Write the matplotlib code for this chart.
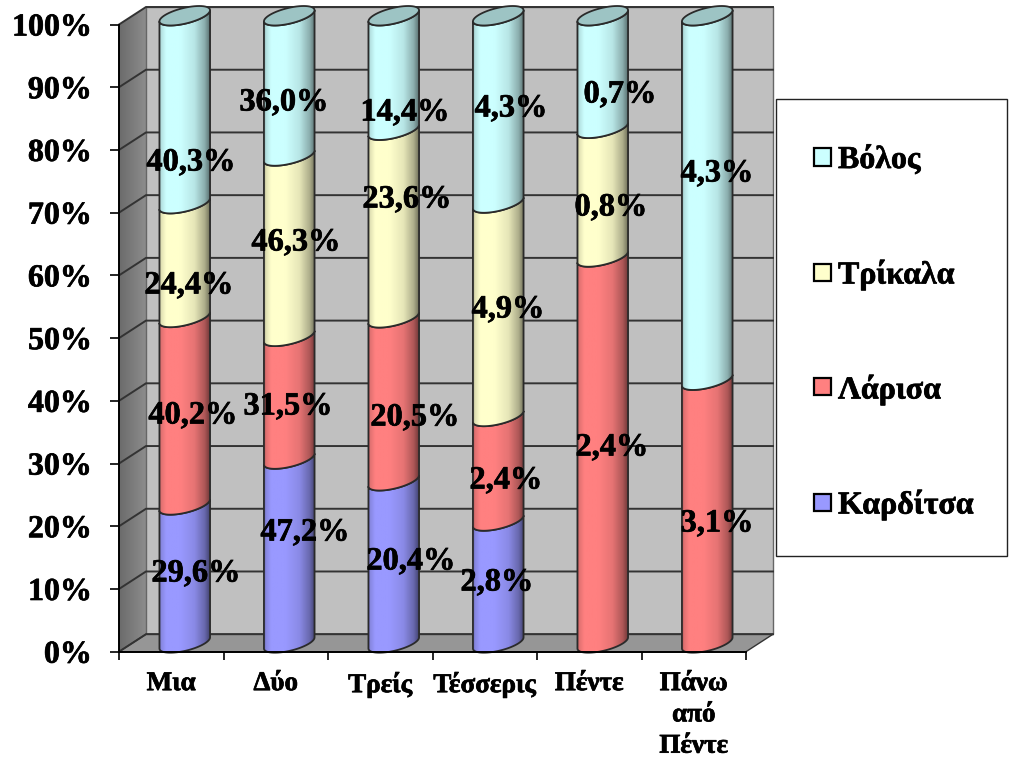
import matplotlib
matplotlib.use('Agg')
import matplotlib.pyplot as plt
import matplotlib.patheffects as pe
import numpy as np
from matplotlib.patches import Polygon, Rectangle

plt.rcParams['font.family'] = ['Liberation Serif', 'DejaVu Serif']
plt.rcParams['font.weight'] = 'bold'

# Δεδομένα
categories = ['Μια', 'Δύο', 'Τρείς', 'Τέσσερις', 'Πέντε', 'Πάνω\nαπό\nΠέντε']
series_names = ['Καρδίτσα', 'Λάρισα', 'Τρίκαλα', 'Βόλος']
karditsa = [29.6, 47.2, 20.4, 2.8, 0, 0]
larisa = [40.2, 31.5, 20.5, 2.4, 2.4, 3.1]
trikala = [24.4, 46.3, 23.6, 4.9, 0.8, 0]
volos = [40.3, 36.0, 14.4, 4.3, 0.7, 4.3]
y_ticks = [0, 10, 20, 30, 40, 50, 60, 70, 80, 90, 100]

colors = ['#9999FF', '#FF8080', '#FFFFCC', '#CCFFFF']

# Θέσεις των ετικετών τιμών (κέντρο σε pixel), ανά στήλη από κάτω προς τα πάνω
label_px = [
    [(195, 571), (192, 413), (188, 283), (190, 160)],
    [(304, 530), (287, 404), (295, 240), (283, 100)],
    [(410, 559), (414, 415), (406, 197), (404, 110)],
    [(496, 580), (505, 478), (507, 307), (510, 106)],
    [None, (611, 445), (610, 205), (619, 92)],
    [None, (716, 521), None, (716, 171)],
]

W, H = 1014, 758
X0, X1 = 119, 746
Y0, Y1 = 651.7, 24.5
px_x = 6 / (X1 - X0)
px_y = 100 / (Y0 - Y1)
TEXT_DX = 1
TEXT_DY = 3

# Βάθος του τρισδιάστατου πλαισίου
depth_x = 27 * px_x
depth_y = 17.5 * px_y

# Κύλινδρος
bar_a = 25.3
bar_b = 8.0
bar_k = 0.22
EDGE = '#2a2a2a'
HEAVY = [pe.withStroke(linewidth=0.5, foreground='black')]


def shade(color, f):
    rgb = np.array(matplotlib.colors.to_rgb(color))
    return tuple(rgb * f)


def arc(cx, y, t0, t1):
    t = np.linspace(t0, t1, 60)
    xs = cx + bar_a * np.cos(t) * px_x
    ys = y + (bar_b * np.sin(t) + bar_k * bar_a * np.cos(t)) * px_y
    return np.column_stack([xs, ys])


def gradient_rgb(color):
    # Οριζόντια σκίαση του κυλίνδρου
    stops = [0, 0.04, 0.14, 0.42, 0.7, 0.9, 1]
    vals = [0.72, 0.88, 1.0, 1.0, 0.9, 0.68, 0.45]
    u = np.linspace(0, 1, 120)
    f = np.interp(u, stops, vals)
    rgb = np.array(matplotlib.colors.to_rgb(color))
    return (rgb[None, None, :] * f[None, :, None]).clip(0, 1)


fig = plt.figure(figsize=(W / 100, H / 100), dpi=100, facecolor='white')
ax = fig.add_axes([X0 / W, 1 - Y0 / H, (X1 - X0) / W, (Y0 - Y1) / H])
ax.patch.set_visible(False)

# Πλαϊνό τοίχωμα, πίσω τοίχωμα, δάπεδο
side = Polygon([(0, 0), (depth_x, depth_y), (depth_x, 100 + depth_y), (0, 100)],
               closed=True, facecolor='none', edgecolor='none', clip_on=False)
ax.add_patch(side)
side_grad = np.linspace(0.42, 0.55, 40)[None, :, None].repeat(3, axis=2)
im = ax.imshow(side_grad, extent=(0, depth_x, 0, 100 + depth_y), aspect='auto',
               origin='lower', zorder=1)
# οι εικόνες κόβονται αλλιώς στα όρια των αξόνων
im.set_clip_box(fig.bbox)
im.set_clip_path(side)

ax.add_patch(Rectangle((depth_x, depth_y), 6, 100, facecolor='#C0C0C0', edgecolor='#666666',
                       lw=1, zorder=1, clip_on=False))
ax.add_patch(Polygon([(0, 0), (6, 0), (6 + depth_x, depth_y), (depth_x, depth_y)], closed=True,
                     facecolor='#969696', edgecolor='#333333', lw=1, zorder=1.5, clip_on=False))

# Γραμμές πλέγματος
for p in y_ticks:
    ax.plot([0, depth_x, 6 + depth_x], [p, p + depth_y, p + depth_y], color='#333333', lw=1.4,
            zorder=2, clip_on=False, solid_joinstyle='miter')

# Στήλες 100%
table = np.array([karditsa, larisa, trikala, volos], dtype=float)
totals = table.sum(axis=0)
shares = table / totals * 100

for i in range(len(categories)):
    cx = i + 0.5 + depth_x / 2
    base = 0.0
    for s in range(len(series_names)):
        h = shares[s, i]
        if h == 0:
            continue
        y_bot = base + depth_y / 2
        y_top = base + h + depth_y / 2
        lower = arc(cx, y_bot, np.pi, 2 * np.pi)
        upper = arc(cx, y_top, 2 * np.pi, np.pi)
        poly = Polygon(np.vstack([lower, upper]), closed=True, facecolor='none', edgecolor=EDGE,
                       lw=1.3, zorder=3 + s * 0.1 + 0.05, clip_on=False)
        ax.add_patch(poly)
        grad = ax.imshow(gradient_rgb(colors[s]),
                         extent=(cx - bar_a * px_x, cx + bar_a * px_x, y_bot - 3, y_top + 3),
                         aspect='auto', origin='lower', zorder=3 + s * 0.1)
        grad.set_clip_box(fig.bbox)
        grad.set_clip_path(poly)
        base += h
    # Πάνω έλλειψη
    top_color = [c for c, v in zip(colors, shares[:, i]) if v > 0][-1]
    ax.add_patch(Polygon(arc(cx, 100 + depth_y / 2, 0, 2 * np.pi), closed=True,
                         facecolor=shade(top_color, 0.77), edgecolor=EDGE, lw=1.3, zorder=4,
                         clip_on=False))

ax.set_xlim(0, 6)
ax.set_ylim(0, 100)

# Άξονες
for name in ['top', 'right']:
    ax.spines[name].set_visible(False)
for name in ['left', 'bottom']:
    ax.spines[name].set_color('black')
    ax.spines[name].set_linewidth(1.4)
    ax.spines[name].set_zorder(5)

ax.set_yticks(y_ticks)
ax.set_yticklabels([f'{p}%' for p in y_ticks], fontsize=23, fontweight='bold',
                   path_effects=HEAVY)
ax.set_xticks(range(7))
ax.set_xticklabels([])
ax.set_xticks([i + 0.5 for i in range(6)], minor=True)
ax.set_xticklabels(categories, minor=True, fontsize=19.5, fontweight='bold', linespacing=1.33,
                   path_effects=HEAVY)
ax.tick_params(axis='y', length=6.5, width=1.2, pad=13, color='black')
ax.tick_params(axis='x', which='major', length=6, width=1.2, color='black')
ax.tick_params(axis='x', which='minor', length=0, pad=14)

# Ετικέτες τιμών
for s in range(len(series_names)):
    series_values = table[s]
    for i, value in enumerate(series_values):
        pos = label_px[i][s]
        if value == 0 or pos is None:
            continue
        txt = f'{value:.1f}%'.replace('.', ',')
        fig.text((pos[0] + TEXT_DX) / W, 1 - (pos[1] + TEXT_DY) / H, txt, fontsize=23.3,
                 fontweight='bold', color='black', ha='center', va='center', zorder=10,
                 path_effects=HEAVY)

# Υπόμνημα
fig.add_artist(Rectangle((776 / W, 1 - 556 / H), 231 / W, 457 / H, transform=fig.transFigure,
                         facecolor='white', edgecolor='#222222', lw=1.0, zorder=6))
legend_y = [502, 387, 272, 157]
for name, color, ly in zip(series_names, colors, legend_y):
    fig.add_artist(Rectangle((814 / W, 1 - (ly + 8.5) / H), 17 / W, 17 / H, transform=fig.transFigure,
                             facecolor=color, edgecolor='black', lw=1.6, zorder=7))
    fig.text(838 / W, 1 - (ly + TEXT_DY) / H, name, fontsize=23, fontweight='bold', ha='left',
             va='center', zorder=8, path_effects=HEAVY)

fig.savefig('out.png', dpi=100)
